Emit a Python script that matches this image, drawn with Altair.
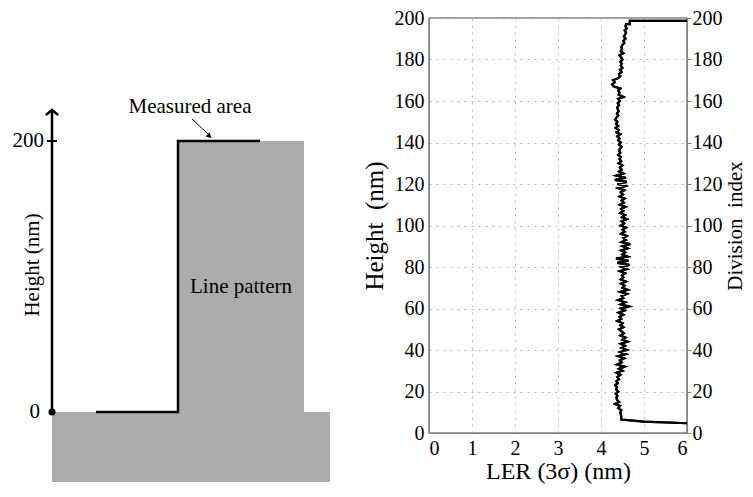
import altair as alt
import pandas as pd

FONT = "Liberation Serif"

# ---------------- right panel data: LER vs height ----------------
heights = [4.4, 4.7, 5.5, 6.5] + list(range(7, 198)) + [197.0, 198.6, 198.6]
ler = [6.4, 6.0, 5.0, 4.47,
       4.47, 4.47, 4.46, 4.45, 4.47, 4.40, 4.44, 4.33, 4.42, 4.37,
       4.36, 4.38, 4.34, 4.40, 4.35, 4.37, 4.33, 4.39, 4.36, 4.42,
       4.38, 4.45, 4.36, 4.50, 4.42, 4.55, 4.37, 4.48, 4.44, 4.54,
       4.40, 4.58, 4.45, 4.60, 4.48, 4.56, 4.46, 4.62, 4.50, 4.57,
       4.45, 4.53, 4.48, 4.42, 4.52, 4.45, 4.50, 4.38, 4.47, 4.43,
       4.52, 4.41, 4.55, 4.47, 4.65, 4.46, 4.56, 4.40, 4.52, 4.48,
       4.60, 4.45, 4.62, 4.50, 4.55, 4.47, 4.58, 4.46, 4.52, 4.49,
       4.56, 4.44, 4.60, 4.48, 4.66, 4.38, 4.64, 4.35, 4.62, 4.50,
       4.56, 4.47, 4.62, 4.50, 4.68, 4.48, 4.58, 4.52, 4.60, 4.47,
       4.55, 4.50, 4.58, 4.46, 4.54, 4.48, 4.60, 4.49, 4.56, 4.45,
       4.52, 4.47, 4.57, 4.44, 4.53, 4.48, 4.55, 4.43, 4.51, 4.46,
       4.54, 4.40, 4.56, 4.38, 4.60, 4.32, 4.58, 4.36, 4.52, 4.42,
       4.48, 4.44, 4.50, 4.41, 4.47, 4.43, 4.46, 4.40, 4.45, 4.42,
       4.44, 4.48, 4.42, 4.46, 4.40, 4.43, 4.38, 4.45, 4.36, 4.41,
       4.34, 4.40, 4.35, 4.38, 4.33, 4.36, 4.40, 4.37, 4.41, 4.39,
       4.38, 4.42, 4.39, 4.44, 4.40, 4.52, 4.41, 4.43, 4.40, 4.45,
       4.30, 4.26, 4.32, 4.28, 4.40, 4.45, 4.42, 4.48, 4.44, 4.50,
       4.46, 4.48, 4.45, 4.50, 4.47, 4.43, 4.52, 4.46, 4.49, 4.47,
       4.50, 4.54, 4.52, 4.57, 4.53, 4.56, 4.58, 4.55, 4.60, 4.57,
       4.58,
       4.67, 4.67, 6.5]
x_ticks = [0, 1, 2, 3, 4, 5, 6]
y_ticks = list(range(0, 201, 20))

df = pd.DataFrame({"h": heights, "ler": ler, "i": list(range(len(heights)))})

# ---------------- left panel data: schematic ----------------
block_x = [52, 178]
block_x2 = [330, 304]
block_y = [-51.7, 0]
block_y2 = [0, 200]
prof_x = [96, 178, 178, 260]
prof_y = [0, 0, 200, 200]
label_text = ["200", "0", "Measured area", "Line pattern"]
label_x = [44, 40, 190, 241]
label_y = [200, 0, 225, 92.3]
label_align = ["right", "right", "center", "center"]

GRAY_FILL = "#acacac"
FRAME = "#808080"

# ---------- right panel ----------
xenc = alt.X("ler:Q", scale=alt.Scale(domain=[0, 6], nice=False, zero=False),
             axis=alt.Axis(title="LER (3σ) (nm)", values=x_ticks, grid=True,
                           gridDash=[2, 5], gridColor="#b4b4b4", tickSize=0,
                           labelPadding=5, titlePadding=1, labelFontSize=20,
                           titleFontSize=24, domainColor=FRAME))

line_l = alt.Chart(df).mark_line(color="black", strokeWidth=2.2, clip=True).encode(
    x=xenc,
    y=alt.Y("h:Q", scale=alt.Scale(domain=[0, 200], nice=False),
            axis=alt.Axis(title="Height\u00a0 (nm)", orient="left", values=y_ticks,
                          grid=True, gridDash=[2, 5], gridColor="#b4b4b4",
                          tickSize=0, labelPadding=5, titlePadding=7,
                          labelFontSize=20, titleFontSize=25, domainColor=FRAME)),
    order="i:Q",
)
line_r = alt.Chart(df).mark_line(color="black", strokeWidth=2.2, clip=True).encode(
    x=xenc,
    y=alt.Y("h:Q", scale=alt.Scale(domain=[0, 200], nice=False),
            axis=alt.Axis(title="Division\u00a0 index", orient="right", values=y_ticks,
                          grid=False, tickSize=4, tickColor=FRAME, labelPadding=1,
                          titlePadding=2, titleAngle=270, titleBaseline="top",
                          labelFontSize=20, titleFontSize=21, domainColor=FRAME)),
    order="i:Q",
)
right = alt.layer(line_l, line_r).resolve_scale(y="independent").properties(
    width=258, height=415,
    view=alt.ViewBackground(stroke=FRAME, strokeWidth=1.5),
)

# ---------- left panel ----------
lx = alt.Scale(domain=[8, 348], nice=False, zero=False)
ly = alt.Scale(domain=[-51.67, 290.77], nice=False, zero=False)

blocks = alt.Chart(pd.DataFrame({"x": block_x, "x2": block_x2, "y": block_y, "y2": block_y2})).mark_rect(
    color=GRAY_FILL).encode(
    x=alt.X("x:Q", scale=lx, axis=None), x2="x2:Q",
    y=alt.Y("y:Q", scale=ly, axis=None), y2="y2:Q")

profile = alt.Chart(pd.DataFrame({"x": prof_x, "y": prof_y, "o": list(range(len(prof_x)))})).mark_line(
    color="black", strokeWidth=2.5).encode(
    x=alt.X("x:Q", scale=lx, axis=None), y=alt.Y("y:Q", scale=ly, axis=None), order="o:Q")

axis_line = alt.Chart(pd.DataFrame({"x": [52], "y": [0], "y2": [222]})).mark_rule(
    color="black", strokeWidth=2.5).encode(
    x=alt.X("x:Q", scale=lx, axis=None), y=alt.Y("y:Q", scale=ly, axis=None), y2="y2:Q")

arrow_head = alt.Chart(pd.DataFrame({"x": [52], "y": [223]})).mark_point(
    shape="M-1,0.85L0,0L1,0.85", filled=False, color="black", strokeWidth=2.5, size=150,
    opacity=1).encode(x=alt.X("x:Q", scale=lx, axis=None), y=alt.Y("y:Q", scale=ly, axis=None))

tick200 = alt.Chart(pd.DataFrame({"x": [47], "x2": [57], "y": [200]})).mark_rule(
    color="black", strokeWidth=2).encode(
    x=alt.X("x:Q", scale=lx, axis=None), x2="x2:Q", y=alt.Y("y:Q", scale=ly, axis=None))

dot = alt.Chart(pd.DataFrame({"x": [52], "y": [0]})).mark_point(
    shape="circle", filled=True, color="black", size=50, opacity=1).encode(
    x=alt.X("x:Q", scale=lx, axis=None), y=alt.Y("y:Q", scale=ly, axis=None))

labels = alt.Chart(pd.DataFrame({"t": label_text, "x": label_x, "y": label_y, "a": label_align}))
lab_r = labels.transform_filter(alt.datum.a == "right").mark_text(
    font=FONT, fontSize=21, align="right", baseline="middle", color="black").encode(
    x=alt.X("x:Q", scale=lx, axis=None), y=alt.Y("y:Q", scale=ly, axis=None), text="t:N")
lab_c = labels.transform_filter(alt.datum.a == "center").mark_text(
    font=FONT, fontSize=21, align="center", baseline="middle", color="black").encode(
    x=alt.X("x:Q", scale=lx, axis=None), y=alt.Y("y:Q", scale=ly, axis=None), text="t:N")

ytitle = alt.Chart(pd.DataFrame({"t": ["Height (nm)"], "x": [33], "y": [108.5]})).mark_text(
    font=FONT, fontSize=21, angle=270, align="center", baseline="middle", color="black").encode(
    x=alt.X("x:Q", scale=lx, axis=None), y=alt.Y("y:Q", scale=ly, axis=None), text="t:N")

meas_arrow = alt.Chart(pd.DataFrame({"x": [192], "x2": [209], "y": [216.2], "y2": [204.5]})).mark_rule(
    color="black", strokeWidth=1).encode(
    x=alt.X("x:Q", scale=lx, axis=None), x2="x2:Q",
    y=alt.Y("y:Q", scale=ly, axis=None), y2="y2:Q")
meas_head = alt.Chart(pd.DataFrame({"x": [209.5], "y": [203.6]})).mark_point(
    shape="triangle-right", filled=True, color="black", size=35, angle=44, opacity=1).encode(
    x=alt.X("x:Q", scale=lx, axis=None), y=alt.Y("y:Q", scale=ly, axis=None))

left = alt.layer(blocks, profile, axis_line, arrow_head, tick200, dot, lab_r, lab_c,
                 ytitle, meas_arrow, meas_head).properties(width=340, height=464)

chart = alt.hconcat(left, right, spacing=13).properties(
    autosize=alt.AutoSizeParams(type="none"),
    padding={"left": 0, "top": 10, "right": 737, "bottom": 466},
).configure_view(stroke=None).configure_axis(
    labelFont=FONT, titleFont=FONT, labelColor="black", titleColor="black",
    titleFontWeight="normal",
)

chart.save("out.html", embed_options={"renderer": "svg", "actions": False})
